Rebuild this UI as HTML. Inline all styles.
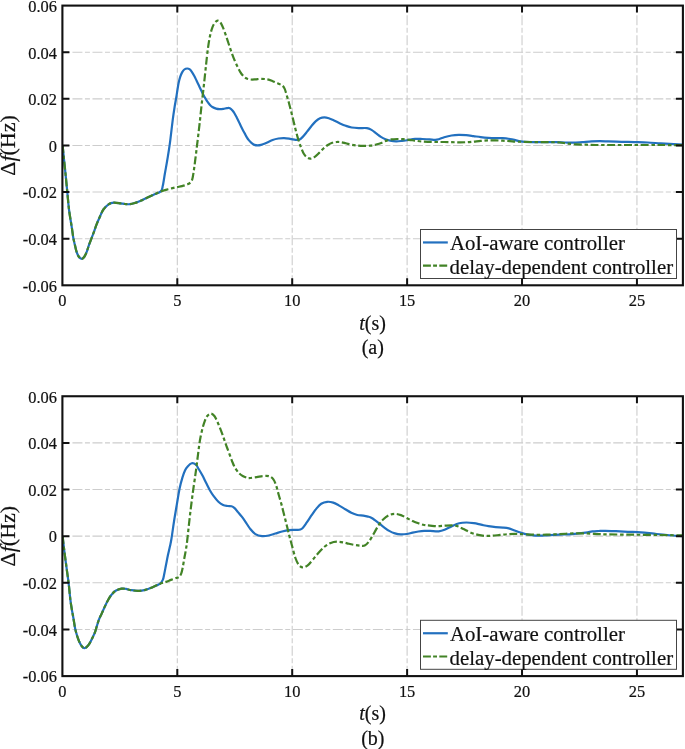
<!DOCTYPE html><html><head><meta charset="utf-8"><style>html,body{margin:0;padding:0;background:#fff;}svg{display:block;will-change:transform;}</style></head><body>
<svg width="685" height="749" viewBox="0 0 685 749">
<rect width="685" height="749" fill="#fff"/>
<defs><clipPath id="clip0"><rect x="62.40" y="5.60" width="620.50" height="279.70"/></clipPath></defs>
<g stroke="#cdcdcd" stroke-width="1.1" stroke-dasharray="10 2.5 5 2.5" stroke-dashoffset="10.4" fill="none"><line x1="177.31" y1="5.60" x2="177.31" y2="285.30"/><line x1="292.21" y1="5.60" x2="292.21" y2="285.30"/><line x1="407.12" y1="5.60" x2="407.12" y2="285.30"/><line x1="522.03" y1="5.60" x2="522.03" y2="285.30"/><line x1="636.94" y1="5.60" x2="636.94" y2="285.30"/></g>
<g stroke="#cdcdcd" stroke-width="1.1" stroke-dasharray="10 2.5 5 2.53" stroke-dashoffset="10.0" fill="none"><line x1="62.40" y1="238.68" x2="682.90" y2="238.68"/><line x1="62.40" y1="192.07" x2="682.90" y2="192.07"/><line x1="62.40" y1="145.45" x2="682.90" y2="145.45"/><line x1="62.40" y1="98.83" x2="682.90" y2="98.83"/><line x1="62.40" y1="52.22" x2="682.90" y2="52.22"/></g>
<g clip-path="url(#clip0)" fill="none" stroke-linejoin="round">
<path d="M62.60,145.20 C62.80,147.23 63.30,152.48 63.80,157.40 C64.30,162.32 65.02,168.92 65.60,174.70 C66.18,180.48 66.73,186.30 67.30,192.10 C67.87,197.90 68.32,204.02 69.00,209.50 C69.68,214.98 70.85,221.45 71.40,225.00 C71.95,228.55 71.97,228.57 72.30,230.80 C72.63,233.03 72.97,236.05 73.40,238.40 C73.83,240.75 74.37,242.65 74.90,244.90 C75.43,247.15 75.97,249.97 76.60,251.90 C77.23,253.83 77.87,255.33 78.70,256.50 C79.53,257.67 80.63,258.90 81.60,258.90 C82.57,258.90 83.62,257.77 84.50,256.50 C85.38,255.23 86.12,253.33 86.90,251.30 C87.68,249.27 88.43,246.45 89.20,244.30 C89.97,242.15 90.72,240.45 91.50,238.40 C92.28,236.35 93.07,234.30 93.90,232.00 C94.73,229.70 95.48,227.18 96.50,224.60 C97.52,222.02 98.85,219.02 100.00,216.50 C101.15,213.98 101.97,211.53 103.40,209.50 C104.83,207.47 106.87,205.45 108.60,204.30 C110.33,203.15 111.77,202.75 113.80,202.60 C115.83,202.45 118.93,203.17 120.80,203.40 C122.67,203.63 123.45,203.87 125.00,204.00 C126.55,204.13 128.40,204.38 130.10,204.20 C131.80,204.02 133.33,203.50 135.20,202.90 C137.07,202.30 139.25,201.50 141.30,200.60 C143.35,199.70 145.45,198.48 147.50,197.50 C149.55,196.52 151.38,195.72 153.60,194.70 C155.82,193.68 159.27,192.88 160.80,191.40 C162.33,189.92 162.12,188.78 162.80,185.80 C163.48,182.82 164.22,177.42 164.90,173.50 C165.58,169.58 166.23,166.22 166.90,162.30 C167.57,158.38 168.33,153.70 168.90,150.00 C169.47,146.30 169.67,145.08 170.30,140.10 C170.93,135.12 171.98,125.62 172.70,120.10 C173.42,114.58 174.00,110.82 174.60,107.00 C175.20,103.18 175.82,100.12 176.30,97.20 C176.78,94.28 177.12,91.87 177.50,89.50 C177.88,87.13 178.15,85.10 178.60,83.00 C179.05,80.90 179.62,78.67 180.20,76.90 C180.78,75.13 181.42,73.63 182.10,72.40 C182.78,71.17 183.45,70.15 184.30,69.50 C185.15,68.85 186.28,68.52 187.20,68.50 C188.12,68.48 189.00,68.80 189.80,69.40 C190.60,70.00 191.25,71.00 192.00,72.10 C192.75,73.20 193.55,74.60 194.30,76.00 C195.05,77.40 195.75,78.95 196.50,80.50 C197.25,82.05 198.05,83.72 198.80,85.30 C199.55,86.88 200.32,88.57 201.00,90.00 C201.68,91.43 202.20,92.55 202.90,93.90 C203.60,95.25 204.45,96.82 205.20,98.10 C205.95,99.38 206.60,100.47 207.40,101.60 C208.20,102.73 209.17,104.00 210.00,104.90 C210.83,105.80 211.38,106.38 212.40,107.00 C213.42,107.62 214.88,108.25 216.10,108.60 C217.32,108.95 218.48,109.07 219.70,109.10 C220.92,109.13 222.18,108.97 223.40,108.80 C224.62,108.63 225.92,108.20 227.00,108.10 C228.08,108.00 228.95,107.77 229.90,108.20 C230.85,108.63 231.90,109.78 232.70,110.70 C233.50,111.62 234.03,112.58 234.70,113.70 C235.37,114.82 236.03,116.12 236.70,117.40 C237.37,118.68 238.03,120.02 238.70,121.40 C239.37,122.78 240.03,124.32 240.70,125.70 C241.37,127.08 242.03,128.42 242.70,129.70 C243.37,130.98 244.03,132.17 244.70,133.40 C245.37,134.63 245.98,135.93 246.70,137.10 C247.42,138.27 248.17,139.40 249.00,140.40 C249.83,141.40 250.80,142.35 251.70,143.10 C252.60,143.85 253.40,144.52 254.40,144.90 C255.40,145.28 256.58,145.40 257.70,145.40 C258.82,145.40 259.88,145.22 261.10,144.90 C262.32,144.58 263.08,144.32 265.00,143.50 C266.92,142.68 270.37,140.83 272.60,140.00 C274.83,139.17 276.47,138.82 278.40,138.50 C280.33,138.18 282.25,138.05 284.20,138.10 C286.15,138.15 288.22,138.52 290.10,138.80 C291.98,139.08 294.02,139.63 295.50,139.80 C296.98,139.97 297.83,140.25 299.00,139.80 C300.17,139.35 301.18,138.42 302.50,137.10 C303.82,135.78 305.43,133.72 306.90,131.90 C308.37,130.08 309.85,127.95 311.30,126.20 C312.75,124.45 314.15,122.72 315.60,121.40 C317.05,120.08 318.53,118.97 320.00,118.30 C321.47,117.63 322.93,117.40 324.40,117.40 C325.87,117.40 327.20,117.78 328.80,118.30 C330.40,118.82 332.13,119.65 334.00,120.50 C335.87,121.35 338.03,122.52 340.00,123.40 C341.97,124.28 343.85,125.12 345.80,125.80 C347.75,126.48 349.55,127.12 351.70,127.50 C353.85,127.88 356.17,128.00 358.70,128.10 C361.23,128.20 364.77,127.80 366.90,128.10 C369.03,128.40 369.95,129.02 371.50,129.90 C373.05,130.78 374.63,132.23 376.20,133.40 C377.77,134.57 379.35,135.93 380.90,136.90 C382.45,137.87 383.95,138.58 385.50,139.20 C387.05,139.82 388.43,140.25 390.20,140.60 C391.97,140.95 394.15,141.25 396.10,141.30 C398.05,141.35 399.97,141.10 401.90,140.90 C403.83,140.70 405.52,140.43 407.70,140.10 C409.88,139.77 412.57,139.08 415.00,138.90 C417.43,138.72 419.87,138.92 422.30,139.00 C424.73,139.08 427.17,139.28 429.60,139.40 C432.03,139.52 434.47,140.07 436.90,139.70 C439.33,139.33 441.77,137.90 444.20,137.20 C446.63,136.50 449.07,135.88 451.50,135.50 C453.93,135.12 456.37,134.95 458.80,134.90 C461.23,134.85 463.67,135.00 466.10,135.20 C468.53,135.40 470.97,135.78 473.40,136.10 C475.83,136.42 478.27,136.82 480.70,137.10 C483.13,137.38 485.57,137.62 488.00,137.80 C490.43,137.98 492.87,138.13 495.30,138.20 C497.73,138.27 500.17,138.07 502.60,138.20 C505.03,138.33 507.78,138.68 509.90,139.00 C512.02,139.32 513.53,139.70 515.30,140.10 C517.07,140.50 518.10,141.07 520.50,141.40 C522.90,141.73 525.97,141.98 529.70,142.10 C533.43,142.22 538.52,142.10 542.90,142.10 C547.28,142.10 552.28,142.03 556.00,142.10 C559.72,142.17 562.35,142.40 565.20,142.50 C568.05,142.60 570.25,142.77 573.10,142.70 C575.95,142.63 579.23,142.32 582.30,142.10 C585.37,141.88 588.55,141.55 591.50,141.40 C594.45,141.25 597.23,141.20 600.00,141.20 C602.77,141.20 604.55,141.30 608.10,141.40 C611.65,141.50 616.92,141.68 621.30,141.80 C625.68,141.92 630.02,141.98 634.40,142.10 C638.78,142.22 643.22,142.28 647.60,142.50 C651.98,142.72 656.33,143.13 660.70,143.40 C665.07,143.67 670.17,143.92 673.80,144.10 C677.43,144.28 681.05,144.43 682.50,144.50" stroke="#2270bf" stroke-width="2.2"/>
<path d="M62.60,145.20 C62.80,147.23 63.30,152.48 63.80,157.40 C64.30,162.32 65.02,168.92 65.60,174.70 C66.18,180.48 66.73,186.30 67.30,192.10 C67.87,197.90 68.32,204.02 69.00,209.50 C69.68,214.98 70.85,221.45 71.40,225.00 C71.95,228.55 71.97,228.57 72.30,230.80 C72.63,233.03 72.97,236.05 73.40,238.40 C73.83,240.75 74.37,242.65 74.90,244.90 C75.43,247.15 75.97,249.97 76.60,251.90 C77.23,253.83 77.87,255.33 78.70,256.50 C79.53,257.67 80.63,258.90 81.60,258.90 C82.57,258.90 83.62,257.77 84.50,256.50 C85.38,255.23 86.12,253.33 86.90,251.30 C87.68,249.27 88.43,246.45 89.20,244.30 C89.97,242.15 90.72,240.45 91.50,238.40 C92.28,236.35 93.07,234.30 93.90,232.00 C94.73,229.70 95.48,227.18 96.50,224.60 C97.52,222.02 98.85,219.02 100.00,216.50 C101.15,213.98 101.97,211.53 103.40,209.50 C104.83,207.47 106.87,205.45 108.60,204.30 C110.33,203.15 111.77,202.75 113.80,202.60 C115.83,202.45 118.93,203.17 120.80,203.40 C122.67,203.63 123.45,203.87 125.00,204.00 C126.55,204.13 128.40,204.38 130.10,204.20 C131.80,204.02 133.33,203.50 135.20,202.90 C137.07,202.30 139.25,201.50 141.30,200.60 C143.35,199.70 145.45,198.48 147.50,197.50 C149.55,196.52 151.38,195.72 153.60,194.70 C155.82,193.68 158.42,192.30 160.80,191.40 C163.18,190.50 165.35,189.98 167.90,189.30 C170.45,188.62 173.75,187.83 176.10,187.30 C178.45,186.77 180.02,186.63 182.00,186.10 C183.98,185.57 186.45,184.88 188.00,184.10 C189.55,183.32 190.52,182.52 191.30,181.40 C192.08,180.28 192.25,179.40 192.70,177.40 C193.15,175.40 193.55,172.52 194.00,169.40 C194.45,166.28 194.95,162.25 195.40,158.70 C195.85,155.15 196.27,151.65 196.70,148.10 C197.13,144.55 197.55,141.18 198.00,137.40 C198.45,133.62 198.95,129.40 199.40,125.40 C199.85,121.40 200.27,117.42 200.70,113.40 C201.13,109.38 201.60,104.87 202.00,101.30 C202.40,97.73 202.75,95.02 203.10,92.00 C203.45,88.98 203.70,86.85 204.10,83.20 C204.50,79.55 205.03,74.47 205.50,70.10 C205.97,65.73 206.43,61.05 206.90,57.00 C207.37,52.95 207.77,49.38 208.30,45.80 C208.83,42.22 209.40,38.62 210.10,35.50 C210.80,32.38 211.72,29.20 212.50,27.10 C213.28,25.00 213.95,23.97 214.80,22.90 C215.65,21.83 216.67,20.78 217.60,20.70 C218.53,20.62 219.53,21.33 220.40,22.40 C221.27,23.47 221.93,25.07 222.80,27.10 C223.67,29.13 224.67,31.95 225.60,34.60 C226.53,37.25 227.47,40.20 228.40,43.00 C229.33,45.80 230.27,48.75 231.20,51.40 C232.13,54.05 232.98,56.42 234.00,58.90 C235.02,61.38 236.22,64.05 237.30,66.30 C238.38,68.55 239.42,70.68 240.50,72.40 C241.58,74.12 242.78,75.58 243.80,76.60 C244.82,77.62 245.43,78.02 246.60,78.50 C247.77,78.98 249.35,79.35 250.80,79.50 C252.25,79.65 253.53,79.52 255.30,79.40 C257.07,79.28 259.37,78.80 261.40,78.80 C263.43,78.80 265.60,79.00 267.50,79.40 C269.40,79.80 271.05,80.53 272.80,81.20 C274.55,81.87 276.40,82.67 278.00,83.40 C279.60,84.13 281.30,84.73 282.40,85.60 C283.50,86.47 283.95,87.22 284.60,88.60 C285.25,89.98 285.72,92.00 286.30,93.90 C286.88,95.80 287.52,97.95 288.10,100.00 C288.68,102.05 289.22,104.00 289.80,106.20 C290.38,108.40 290.97,110.67 291.60,113.20 C292.23,115.73 292.95,118.72 293.60,121.40 C294.25,124.08 294.75,126.38 295.50,129.30 C296.25,132.22 297.22,135.98 298.10,138.90 C298.98,141.82 299.85,144.32 300.80,146.80 C301.75,149.28 302.78,152.05 303.80,153.80 C304.82,155.55 305.80,156.50 306.90,157.30 C308.00,158.10 309.08,158.68 310.40,158.60 C311.72,158.52 313.33,157.75 314.80,156.80 C316.27,155.85 317.75,154.28 319.20,152.90 C320.65,151.52 322.05,149.82 323.50,148.50 C324.95,147.18 326.43,145.95 327.90,145.00 C329.37,144.05 330.83,143.30 332.30,142.80 C333.77,142.30 335.25,142.10 336.70,142.00 C338.15,141.90 339.48,141.98 341.00,142.20 C342.52,142.42 344.02,142.87 345.80,143.30 C347.58,143.73 349.75,144.42 351.70,144.80 C353.65,145.18 355.55,145.42 357.50,145.60 C359.45,145.78 361.25,145.90 363.40,145.90 C365.55,145.90 368.27,145.83 370.40,145.60 C372.53,145.37 374.27,144.98 376.20,144.50 C378.13,144.02 380.25,143.35 382.00,142.70 C383.75,142.05 385.13,141.15 386.70,140.60 C388.27,140.05 389.65,139.67 391.40,139.40 C393.15,139.13 395.25,139.03 397.20,139.00 C399.15,138.97 401.15,139.07 403.10,139.20 C405.05,139.33 406.97,139.57 408.90,139.80 C410.83,140.03 412.47,140.30 414.70,140.60 C416.93,140.90 419.82,141.38 422.30,141.60 C424.78,141.82 427.17,141.83 429.60,141.90 C432.03,141.97 434.47,141.98 436.90,142.00 C439.33,142.02 441.77,141.97 444.20,142.00 C446.63,142.03 449.07,142.15 451.50,142.20 C453.93,142.25 456.37,142.30 458.80,142.30 C461.23,142.30 463.67,142.32 466.10,142.20 C468.53,142.08 470.97,141.82 473.40,141.60 C475.83,141.38 478.27,141.10 480.70,140.90 C483.13,140.70 485.57,140.48 488.00,140.40 C490.43,140.32 492.87,140.35 495.30,140.40 C497.73,140.45 500.17,140.57 502.60,140.70 C505.03,140.83 507.57,141.03 509.90,141.20 C512.23,141.37 514.40,141.60 516.60,141.70 C518.80,141.80 519.82,141.73 523.10,141.80 C526.38,141.87 531.92,142.05 536.30,142.10 C540.68,142.15 545.47,142.03 549.40,142.10 C553.33,142.17 557.05,142.28 559.90,142.50 C562.75,142.72 563.87,143.08 566.50,143.40 C569.13,143.72 572.42,144.18 575.70,144.40 C578.98,144.62 582.92,144.60 586.20,144.70 C589.48,144.80 591.75,144.95 595.40,145.00 C599.05,145.05 601.60,145.00 608.10,145.00 C614.60,145.00 625.63,145.00 634.40,145.00 C643.17,145.00 652.68,144.98 660.70,145.00 C668.72,145.02 678.87,145.08 682.50,145.10" stroke="#428326" stroke-width="2.2" stroke-dasharray="7.9 2.7 3.5 2.6"/>
</g>
<path d="M177.31,285.30v-7M177.31,5.60v7M292.21,285.30v-7M292.21,5.60v7M407.12,285.30v-7M407.12,5.60v7M522.03,285.30v-7M522.03,5.60v7M636.94,285.30v-7M636.94,5.60v7M62.40,238.68h7M682.90,238.68h-7M62.40,192.07h7M682.90,192.07h-7M62.40,145.45h7M682.90,145.45h-7M62.40,98.83h7M682.90,98.83h-7M62.40,52.22h7M682.90,52.22h-7" stroke="#111" stroke-width="2" fill="none"/>
<rect x="62.40" y="5.60" width="620.50" height="279.70" fill="none" stroke="#111" stroke-width="2.1"/>
<g font-family='"Liberation Serif", serif' font-size="16.4" fill="#111" stroke="#111" stroke-width="0.2"><text x="62.40" y="306.20" text-anchor="middle">0</text><text x="177.31" y="306.20" text-anchor="middle">5</text><text x="292.21" y="306.20" text-anchor="middle">10</text><text x="407.12" y="306.20" text-anchor="middle">15</text><text x="522.03" y="306.20" text-anchor="middle">20</text><text x="636.94" y="306.20" text-anchor="middle">25</text><text x="57.0" y="291.60" text-anchor="end">-0.06</text><text x="57.0" y="244.98" text-anchor="end">-0.04</text><text x="57.0" y="198.37" text-anchor="end">-0.02</text><text x="57.0" y="151.75" text-anchor="end">0</text><text x="57.0" y="105.13" text-anchor="end">0.02</text><text x="57.0" y="58.52" text-anchor="end">0.04</text><text x="57.0" y="11.90" text-anchor="end">0.06</text></g>
<text font-family='"Liberation Serif", serif' font-size="22" fill="#111" stroke="#111" stroke-width="0.2" transform="translate(15.4,145.45) rotate(-90)" text-anchor="middle">&#916;<tspan font-style="italic">f</tspan>(Hz)</text>
<text font-family='"Liberation Serif", serif' font-size="20" fill="#111" stroke="#111" stroke-width="0.2" x="372.6" y="329.60" text-anchor="middle"><tspan font-style="italic">t</tspan>(s)</text>
<text font-family='"Liberation Serif", serif' font-size="20" fill="#111" stroke="#111" stroke-width="0.2" x="372.8" y="353.70" text-anchor="middle">(a)</text>
<rect x="420.5" y="229.50" width="256" height="49" fill="#fff" stroke="#444" stroke-width="1"/>
<line x1="423" x2="447.8" y1="242.45" y2="242.45" stroke="#2270bf" stroke-width="2.2"/>
<line x1="423" x2="447.8" y1="265.70" y2="265.70" stroke="#428326" stroke-width="2.2" stroke-dasharray="7.9 2.2 3.9 2.3"/>
<g font-family='"Liberation Serif", serif' font-size="20.8" fill="#111" stroke="#111" stroke-width="0.2"><text x="449.9" y="250.10">AoI-aware controller</text><text x="449.6" y="273.90">delay-dependent controller</text></g>
<defs><clipPath id="clip1"><rect x="62.40" y="396.25" width="620.50" height="279.85"/></clipPath></defs>
<g stroke="#cdcdcd" stroke-width="1.1" stroke-dasharray="10 2.5 5 2.5" stroke-dashoffset="10.4" fill="none"><line x1="177.31" y1="396.25" x2="177.31" y2="676.10"/><line x1="292.21" y1="396.25" x2="292.21" y2="676.10"/><line x1="407.12" y1="396.25" x2="407.12" y2="676.10"/><line x1="522.03" y1="396.25" x2="522.03" y2="676.10"/><line x1="636.94" y1="396.25" x2="636.94" y2="676.10"/></g>
<g stroke="#cdcdcd" stroke-width="1.1" stroke-dasharray="10 2.5 5 2.53" stroke-dashoffset="10.0" fill="none"><line x1="62.40" y1="629.46" x2="682.90" y2="629.46"/><line x1="62.40" y1="582.82" x2="682.90" y2="582.82"/><line x1="62.40" y1="536.17" x2="682.90" y2="536.17"/><line x1="62.40" y1="489.53" x2="682.90" y2="489.53"/><line x1="62.40" y1="442.89" x2="682.90" y2="442.89"/></g>
<g clip-path="url(#clip1)" fill="none" stroke-linejoin="round">
<path d="M62.60,536.10 C62.88,538.55 63.63,545.45 64.30,550.80 C64.97,556.15 65.87,562.70 66.60,568.20 C67.33,573.70 68.07,578.50 68.70,583.80 C69.33,589.10 69.85,595.57 70.40,600.00 C70.95,604.43 71.47,607.20 72.00,610.40 C72.53,613.60 73.07,616.13 73.60,619.20 C74.13,622.27 74.60,625.98 75.20,628.80 C75.80,631.62 76.47,633.82 77.20,636.10 C77.93,638.38 78.80,640.77 79.60,642.50 C80.40,644.23 81.20,645.57 82.00,646.50 C82.80,647.43 83.60,648.03 84.40,648.10 C85.20,648.17 85.93,647.70 86.80,646.90 C87.67,646.10 88.65,644.83 89.60,643.30 C90.55,641.77 91.55,639.70 92.50,637.70 C93.45,635.70 94.30,634.12 95.30,631.30 C96.30,628.48 97.43,623.75 98.50,620.80 C99.57,617.85 100.63,616.00 101.70,613.60 C102.77,611.20 103.83,608.67 104.90,606.40 C105.97,604.13 107.00,601.93 108.10,600.00 C109.20,598.07 110.25,596.33 111.50,594.80 C112.75,593.27 113.90,591.82 115.60,590.80 C117.30,589.78 119.97,589.02 121.70,588.70 C123.43,588.38 124.43,588.67 126.00,588.90 C127.57,589.13 129.05,589.77 131.10,590.10 C133.15,590.43 135.92,590.93 138.30,590.90 C140.68,590.87 143.02,590.52 145.40,589.90 C147.78,589.28 150.22,588.20 152.60,587.20 C154.98,586.20 158.00,585.12 159.70,583.90 C161.40,582.68 162.03,581.60 162.80,579.90 C163.57,578.20 163.78,576.10 164.30,573.70 C164.82,571.30 165.30,568.57 165.90,565.50 C166.50,562.43 167.22,558.53 167.90,555.30 C168.58,552.07 169.40,548.90 170.00,546.10 C170.60,543.30 170.83,542.60 171.50,538.50 C172.17,534.40 173.12,527.13 174.00,521.50 C174.88,515.87 175.87,510.20 176.80,504.70 C177.73,499.20 178.67,493.02 179.60,488.50 C180.53,483.98 181.50,480.60 182.40,477.60 C183.30,474.60 184.15,472.32 185.00,470.50 C185.85,468.68 186.38,467.90 187.50,466.70 C188.62,465.50 190.30,463.63 191.70,463.30 C193.10,462.97 194.73,463.75 195.90,464.70 C197.07,465.65 197.60,467.18 198.70,469.00 C199.80,470.82 201.25,473.25 202.50,475.60 C203.75,477.95 204.95,480.62 206.20,483.10 C207.45,485.58 208.75,488.32 210.00,490.50 C211.25,492.68 212.30,494.32 213.70,496.20 C215.10,498.08 216.83,500.33 218.40,501.80 C219.97,503.27 221.55,504.30 223.10,505.00 C224.65,505.70 226.30,505.78 227.70,506.00 C229.10,506.22 230.40,505.98 231.50,506.30 C232.60,506.62 233.22,506.93 234.30,507.90 C235.38,508.87 236.75,510.63 238.00,512.10 C239.25,513.57 240.55,515.07 241.80,516.70 C243.05,518.33 244.13,519.92 245.50,521.90 C246.87,523.88 248.35,526.57 250.00,528.60 C251.65,530.63 253.38,532.85 255.40,534.10 C257.42,535.35 259.88,535.87 262.10,536.10 C264.32,536.33 266.48,535.93 268.70,535.50 C270.92,535.07 273.17,534.17 275.40,533.50 C277.63,532.83 279.87,532.07 282.10,531.50 C284.33,530.93 286.58,530.38 288.80,530.10 C291.02,529.82 293.63,529.87 295.40,529.80 C297.17,529.73 298.22,529.97 299.40,529.70 C300.58,529.43 301.27,529.42 302.50,528.20 C303.73,526.98 305.28,524.57 306.80,522.40 C308.32,520.23 310.00,517.50 311.60,515.20 C313.20,512.90 314.80,510.50 316.40,508.60 C318.00,506.70 319.40,504.93 321.20,503.80 C323.00,502.67 325.20,502.00 327.20,501.80 C329.20,501.60 331.20,501.97 333.20,502.60 C335.20,503.23 337.18,504.50 339.20,505.60 C341.22,506.70 343.28,508.00 345.30,509.20 C347.32,510.40 349.30,511.83 351.30,512.80 C353.30,513.77 355.30,514.53 357.30,515.00 C359.30,515.47 361.52,515.33 363.30,515.60 C365.08,515.87 366.60,516.20 368.00,516.60 C369.40,517.00 370.12,517.08 371.70,518.00 C373.28,518.92 375.55,520.63 377.50,522.10 C379.45,523.57 381.45,525.33 383.40,526.80 C385.35,528.27 387.27,529.80 389.20,530.90 C391.13,532.00 393.05,532.82 395.00,533.40 C396.95,533.98 398.95,534.30 400.90,534.40 C402.85,534.50 404.75,534.30 406.70,534.00 C408.65,533.70 410.65,533.02 412.60,532.60 C414.55,532.18 416.47,531.78 418.40,531.50 C420.33,531.22 422.25,531.00 424.20,530.90 C426.15,530.80 427.67,530.83 430.10,530.90 C432.53,530.97 436.38,531.48 438.80,531.30 C441.22,531.12 442.42,530.65 444.60,529.80 C446.78,528.95 449.47,527.30 451.90,526.20 C454.33,525.10 456.77,523.82 459.20,523.20 C461.63,522.58 464.07,522.50 466.50,522.50 C468.93,522.50 471.37,522.83 473.80,523.20 C476.23,523.57 478.67,524.20 481.10,524.70 C483.53,525.20 485.97,525.78 488.40,526.20 C490.83,526.62 493.27,526.97 495.70,527.20 C498.13,527.43 500.82,527.40 503.00,527.60 C505.18,527.80 506.85,527.92 508.80,528.40 C510.75,528.88 512.75,529.82 514.70,530.50 C516.65,531.18 518.52,531.85 520.50,532.50 C522.48,533.15 524.50,533.92 526.60,534.40 C528.70,534.88 530.92,535.20 533.10,535.40 C535.28,535.60 537.50,535.60 539.70,535.60 C541.90,535.60 543.02,535.55 546.30,535.40 C549.58,535.25 555.02,534.92 559.40,534.70 C563.78,534.48 568.22,534.43 572.60,534.10 C576.98,533.77 582.42,533.15 585.70,532.70 C588.98,532.25 590.12,531.68 592.30,531.40 C594.48,531.12 596.60,531.10 598.80,531.00 C601.00,530.90 602.63,530.77 605.50,530.80 C608.37,530.83 612.27,531.03 616.00,531.20 C619.73,531.37 623.73,531.62 627.90,531.80 C632.07,531.98 636.63,531.98 641.00,532.30 C645.37,532.62 649.72,533.25 654.10,533.70 C658.48,534.15 662.57,534.60 667.30,535.00 C672.03,535.40 679.97,535.92 682.50,536.10" stroke="#2270bf" stroke-width="2.2"/>
<path d="M62.60,536.10 C62.88,538.55 63.63,545.45 64.30,550.80 C64.97,556.15 65.87,562.70 66.60,568.20 C67.33,573.70 68.07,578.50 68.70,583.80 C69.33,589.10 69.85,595.57 70.40,600.00 C70.95,604.43 71.47,607.20 72.00,610.40 C72.53,613.60 73.07,616.13 73.60,619.20 C74.13,622.27 74.60,625.98 75.20,628.80 C75.80,631.62 76.47,633.82 77.20,636.10 C77.93,638.38 78.80,640.77 79.60,642.50 C80.40,644.23 81.20,645.57 82.00,646.50 C82.80,647.43 83.60,648.03 84.40,648.10 C85.20,648.17 85.93,647.70 86.80,646.90 C87.67,646.10 88.65,644.83 89.60,643.30 C90.55,641.77 91.55,639.70 92.50,637.70 C93.45,635.70 94.30,634.12 95.30,631.30 C96.30,628.48 97.43,623.75 98.50,620.80 C99.57,617.85 100.63,616.00 101.70,613.60 C102.77,611.20 103.83,608.67 104.90,606.40 C105.97,604.13 107.00,601.93 108.10,600.00 C109.20,598.07 110.25,596.33 111.50,594.80 C112.75,593.27 113.90,591.82 115.60,590.80 C117.30,589.78 119.97,589.02 121.70,588.70 C123.43,588.38 124.43,588.67 126.00,588.90 C127.57,589.13 129.05,589.77 131.10,590.10 C133.15,590.43 135.92,590.93 138.30,590.90 C140.68,590.87 143.02,590.52 145.40,589.90 C147.78,589.28 150.22,588.20 152.60,587.20 C154.98,586.20 157.48,584.78 159.70,583.90 C161.92,583.02 164.02,582.57 165.90,581.90 C167.78,581.23 169.30,580.55 171.00,579.90 C172.70,579.25 174.73,578.52 176.10,578.00 C177.47,577.48 178.35,577.52 179.20,576.80 C180.05,576.08 180.62,575.23 181.20,573.70 C181.78,572.17 182.18,570.15 182.70,567.60 C183.22,565.05 183.78,561.30 184.30,558.40 C184.82,555.50 185.32,553.18 185.80,550.20 C186.28,547.22 186.52,546.22 187.20,540.50 C187.88,534.78 188.98,523.73 189.90,515.90 C190.82,508.07 191.78,500.37 192.70,493.50 C193.62,486.63 194.73,479.47 195.40,474.70 C196.07,469.93 196.27,468.25 196.70,464.90 C197.13,461.55 197.58,457.88 198.00,454.60 C198.42,451.32 198.77,448.17 199.20,445.20 C199.63,442.23 200.05,439.60 200.60,436.80 C201.15,434.00 201.85,430.90 202.50,428.40 C203.15,425.90 203.73,423.83 204.50,421.80 C205.27,419.77 206.03,417.57 207.10,416.20 C208.17,414.83 209.65,413.60 210.90,413.60 C212.15,413.60 213.52,414.83 214.60,416.20 C215.68,417.57 216.53,419.92 217.40,421.80 C218.27,423.68 218.93,425.32 219.80,427.50 C220.67,429.68 221.75,432.57 222.60,434.90 C223.45,437.23 224.13,439.32 224.90,441.50 C225.67,443.68 226.35,445.67 227.20,448.00 C228.05,450.33 229.10,453.08 230.00,455.50 C230.90,457.92 231.73,460.40 232.60,462.50 C233.47,464.60 234.13,466.32 235.20,468.10 C236.27,469.88 237.75,471.88 239.00,473.20 C240.25,474.52 241.30,475.22 242.70,476.00 C244.10,476.78 246.18,477.57 247.40,477.90 C248.62,478.23 248.45,478.13 250.00,478.00 C251.55,477.87 254.47,477.43 256.70,477.10 C258.93,476.77 261.28,476.13 263.40,476.00 C265.52,475.87 267.73,475.73 269.40,476.30 C271.07,476.87 272.28,477.88 273.40,479.40 C274.52,480.92 275.22,482.85 276.10,485.40 C276.98,487.95 277.82,491.58 278.70,494.70 C279.58,497.82 280.50,500.75 281.40,504.10 C282.30,507.45 283.20,511.25 284.10,514.80 C285.00,518.35 285.92,521.85 286.80,525.40 C287.68,528.95 288.52,532.67 289.40,536.10 C290.28,539.53 291.10,542.35 292.10,546.00 C293.10,549.65 294.25,554.82 295.40,558.00 C296.55,561.18 297.70,563.52 299.00,565.10 C300.30,566.68 301.70,567.50 303.20,567.50 C304.70,567.50 306.40,566.40 308.00,565.10 C309.60,563.80 311.00,561.80 312.80,559.70 C314.60,557.60 316.80,554.70 318.80,552.50 C320.80,550.30 322.80,548.10 324.80,546.50 C326.80,544.90 328.80,543.70 330.80,542.90 C332.80,542.10 334.78,541.80 336.80,541.70 C338.82,541.60 340.88,541.95 342.90,542.30 C344.92,542.65 346.90,543.35 348.90,543.80 C350.90,544.25 352.97,544.68 354.90,545.00 C356.83,545.32 358.87,545.62 360.50,545.70 C362.13,545.78 363.28,546.20 364.70,545.50 C366.12,544.80 367.45,543.55 369.00,541.50 C370.55,539.45 372.38,535.95 374.00,533.20 C375.62,530.45 377.13,527.33 378.70,525.00 C380.27,522.67 381.65,520.85 383.40,519.20 C385.15,517.55 387.27,515.98 389.20,515.10 C391.13,514.22 393.05,513.90 395.00,513.90 C396.95,513.90 398.95,514.42 400.90,515.10 C402.85,515.78 404.75,517.02 406.70,518.00 C408.65,518.98 410.65,520.12 412.60,521.00 C414.55,521.88 416.47,522.63 418.40,523.30 C420.33,523.97 422.25,524.62 424.20,525.00 C426.15,525.38 427.92,525.40 430.10,525.60 C432.28,525.80 434.88,526.18 437.30,526.20 C439.72,526.22 442.17,525.83 444.60,525.70 C447.03,525.57 449.72,525.32 451.90,525.40 C454.08,525.48 455.75,525.58 457.70,526.20 C459.65,526.82 461.40,528.02 463.60,529.10 C465.80,530.18 468.47,531.73 470.90,532.70 C473.33,533.67 475.77,534.37 478.20,534.90 C480.63,535.43 483.07,535.77 485.50,535.90 C487.93,536.03 490.37,535.87 492.80,535.70 C495.23,535.53 497.67,535.15 500.10,534.90 C502.53,534.65 504.97,534.38 507.40,534.20 C509.83,534.02 512.60,533.82 514.70,533.80 C516.80,533.78 516.93,533.95 520.00,534.10 C523.07,534.25 528.72,534.60 533.10,534.70 C537.48,534.80 541.92,534.80 546.30,534.70 C550.68,534.60 555.02,534.32 559.40,534.10 C563.78,533.88 568.22,533.52 572.60,533.40 C576.98,533.28 581.33,533.28 585.70,533.40 C590.07,533.52 595.07,533.93 598.80,534.10 C602.53,534.27 602.17,534.30 608.10,534.40 C614.03,534.50 625.63,534.60 634.40,534.70 C643.17,534.80 652.68,534.88 660.70,535.00 C668.72,535.12 678.87,535.33 682.50,535.40" stroke="#428326" stroke-width="2.2" stroke-dasharray="7.9 2.7 3.5 2.6"/>
</g>
<path d="M177.31,676.10v-7M177.31,396.25v7M292.21,676.10v-7M292.21,396.25v7M407.12,676.10v-7M407.12,396.25v7M522.03,676.10v-7M522.03,396.25v7M636.94,676.10v-7M636.94,396.25v7M62.40,629.46h7M682.90,629.46h-7M62.40,582.82h7M682.90,582.82h-7M62.40,536.17h7M682.90,536.17h-7M62.40,489.53h7M682.90,489.53h-7M62.40,442.89h7M682.90,442.89h-7" stroke="#111" stroke-width="2" fill="none"/>
<rect x="62.40" y="396.25" width="620.50" height="279.85" fill="none" stroke="#111" stroke-width="2.1"/>
<g font-family='"Liberation Serif", serif' font-size="16.4" fill="#111" stroke="#111" stroke-width="0.2"><text x="62.40" y="697.00" text-anchor="middle">0</text><text x="177.31" y="697.00" text-anchor="middle">5</text><text x="292.21" y="697.00" text-anchor="middle">10</text><text x="407.12" y="697.00" text-anchor="middle">15</text><text x="522.03" y="697.00" text-anchor="middle">20</text><text x="636.94" y="697.00" text-anchor="middle">25</text><text x="57.0" y="682.40" text-anchor="end">-0.06</text><text x="57.0" y="635.76" text-anchor="end">-0.04</text><text x="57.0" y="589.12" text-anchor="end">-0.02</text><text x="57.0" y="542.47" text-anchor="end">0</text><text x="57.0" y="495.83" text-anchor="end">0.02</text><text x="57.0" y="449.19" text-anchor="end">0.04</text><text x="57.0" y="402.55" text-anchor="end">0.06</text></g>
<text font-family='"Liberation Serif", serif' font-size="22" fill="#111" stroke="#111" stroke-width="0.2" transform="translate(15.4,536.17) rotate(-90)" text-anchor="middle">&#916;<tspan font-style="italic">f</tspan>(Hz)</text>
<text font-family='"Liberation Serif", serif' font-size="20" fill="#111" stroke="#111" stroke-width="0.2" x="372.6" y="720.40" text-anchor="middle"><tspan font-style="italic">t</tspan>(s)</text>
<text font-family='"Liberation Serif", serif' font-size="20" fill="#111" stroke="#111" stroke-width="0.2" x="372.8" y="744.50" text-anchor="middle">(b)</text>
<rect x="420.5" y="620.30" width="256" height="49" fill="#fff" stroke="#444" stroke-width="1"/>
<line x1="423" x2="447.8" y1="633.25" y2="633.25" stroke="#2270bf" stroke-width="2.2"/>
<line x1="423" x2="447.8" y1="656.50" y2="656.50" stroke="#428326" stroke-width="2.2" stroke-dasharray="7.9 2.2 3.9 2.3"/>
<g font-family='"Liberation Serif", serif' font-size="20.8" fill="#111" stroke="#111" stroke-width="0.2"><text x="449.9" y="640.90">AoI-aware controller</text><text x="449.6" y="664.70">delay-dependent controller</text></g>
</svg></body></html>
